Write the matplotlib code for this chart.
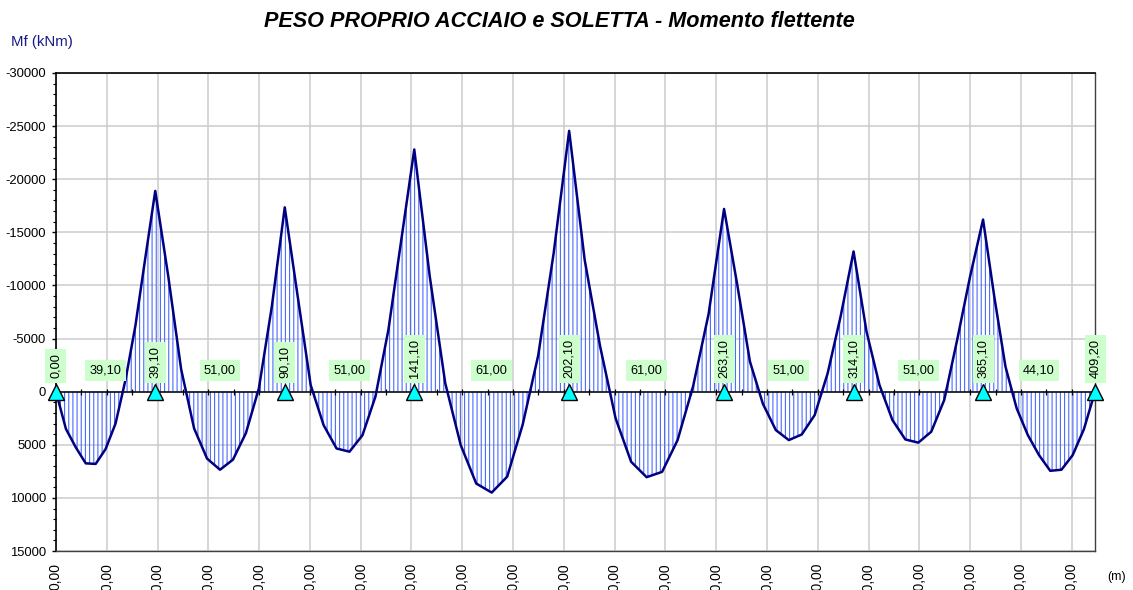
import numpy as np
import matplotlib
matplotlib.use("Agg")
import matplotlib.pyplot as plt
from matplotlib.ticker import MultipleLocator, FuncFormatter

plt.rcParams["font.family"] = ["Liberation Sans", "DejaVu Sans"]
plt.rcParams["hatch.linewidth"] = 0.8
plt.rcParams["hatch.color"] = "#4a6aff"

# support stations (m)
supports = [0.0, 39.1, 90.1, 141.1, 202.1, 263.1, 314.1, 365.1, 409.2]

# bending moment (kNm) at tenths of each span
span1 = [0, 3500, 5250, 6750, 6800, 5400, 3000, -1100, -6200, -12600, -18900]
span2 = [-18900, -10900, -2100, 3460, 6300, 7350, 6400, 3900, -300, -8000, -17350]
span3 = [-17350, -8960, -630, 3150, 5350, 5650, 4100, 470, -5800, -14300, -22800]
span4 = [-22800, -10850, -800, 5030, 8650, 9500, 8000, 3100, -3400, -13050, -24550]
span5 = [-24550, -12420, -4250, 2520, 6600, 8050, 7550, 4560, -500, -7300, -17200]
span6 = [-17200, -10200, -2830, 1150, 3620, 4560, 4030, 2200, -1730, -7080, -13200]
span7 = [-13200, -5660, -630, 2670, 4500, 4800, 3770, 790, -4870, -10850, -16200]
span8 = [-16200, -8960, -2360, 1570, 4090, 5980, 7450, 7350, 5980, 3550, 0]
spans = [span1, span2, span3, span4, span5, span6, span7, span8]


def fmt_it(v):
    return f"{v:.2f}".replace(".", ",")


# build the polyline station by station
x_pts, m_pts = [], []
for i, vals in enumerate(spans):
    xs = np.linspace(supports[i], supports[i + 1], len(vals))
    start = 0 if i == 0 else 1
    x_pts.extend(xs[start:])
    m_pts.extend(vals[start:])
x_pts = np.array(x_pts)
m_pts = np.array(m_pts)

fig = plt.figure(figsize=(11.33, 5.9), dpi=100)
ax = fig.add_axes([0.0494, 0.0661, 0.9171, 0.8102])

ax.set_xlim(0, supports[-1])
ax.set_ylim(15000, -30000)

ax.grid(True, color="#cccccc", lw=1.1)
ax.set_axisbelow(True)

# vertical hatching between zero line and diagram
ax.fill_between(x_pts, 0, m_pts, facecolor="none", edgecolor="#4a6aff",
                hatch="||||", linewidth=0, zorder=2)
ax.plot(x_pts, m_pts, color="#000080", lw=1.8, zorder=4)

# beam axis with small ticks every 10 m
ax.axhline(0, color="black", lw=1.1, zorder=3)
tick_x = np.arange(10, supports[-1], 10)
ax.plot(tick_x, np.zeros_like(tick_x), ls="none", marker="|", ms=4.5,
        mew=0.9, color="black", zorder=3)

# supports
ax.plot(supports, np.zeros(len(supports)), ls="none", marker="^", ms=12,
        mfc="#00ffff", mec="black", mew=1.0, zorder=6, clip_on=False)

box = dict(boxstyle="square,pad=0.35", fc="#ccffcc", ec="none")
for s in supports:
    ax.text(s, -1250, fmt_it(s), rotation=90, ha="center", va="bottom",
            fontsize=9.2, bbox=box, zorder=7)
for a, b in zip(supports[:-1], supports[1:]):
    ax.text((a + b) / 2, -1980, fmt_it(b - a), ha="center", va="center",
            fontsize=9.2, bbox=box, zorder=7)

# axes styling
ax.xaxis.set_major_locator(MultipleLocator(20))
ax.xaxis.set_major_formatter(FuncFormatter(lambda v, p: fmt_it(v)))
ax.tick_params(axis="x", length=0, pad=8.6, labelsize=10, labelrotation=90)

ax.yaxis.set_major_locator(MultipleLocator(5000))
ax.yaxis.set_minor_locator(MultipleLocator(1000))
ax.yaxis.set_major_formatter(FuncFormatter(lambda v, p: f"{v:.0f}"))
ax.tick_params(axis="y", which="major", length=3.2, width=1, pad=4, labelsize=9.4)
ax.tick_params(axis="y", which="minor", length=2, width=0.8)

for side in ["left", "top"]:
    ax.spines[side].set_color("black")
    ax.spines[side].set_linewidth(1.2)
for side in ["right", "bottom"]:
    ax.spines[side].set_color("#404040")
    ax.spines[side].set_linewidth(1.0)

fig.text(0.494, 0.963, "PESO PROPRIO ACCIAIO e SOLETTA - Momento flettente",
         ha="center", va="center", fontsize=15.6, fontweight="bold", fontstyle="italic")
fig.text(0.0097, 0.9288, "Mf (kNm)", ha="left", va="center", fontsize=10.8,
         color="#1a1a8a")
fig.text(0.9775, 0.0225, "(m)", ha="left", va="center", fontsize=8.8)

fig.savefig("out.png", dpi=100)
